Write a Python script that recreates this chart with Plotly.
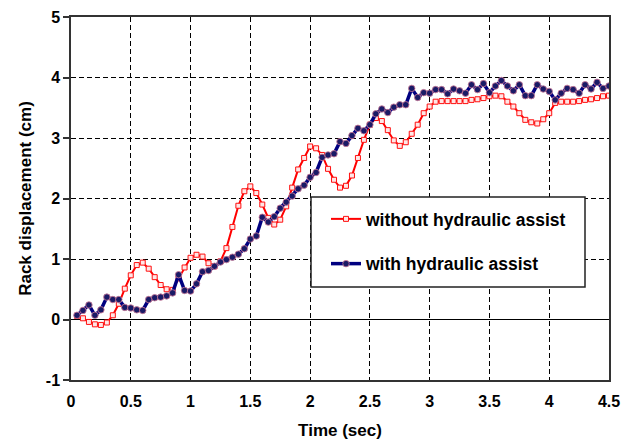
import plotly.graph_objects as go

# Sample times (s)
time_s = [0.05, 0.10, 0.15, 0.20, 0.25, 0.30, 0.35, 0.40, 0.45, 0.50,
          0.55, 0.60, 0.65, 0.70, 0.75, 0.80, 0.85, 0.90, 0.95, 1.00,
          1.05, 1.10, 1.15, 1.20, 1.25, 1.30, 1.35, 1.40, 1.45, 1.50,
          1.55, 1.60, 1.65, 1.70, 1.75, 1.80, 1.85, 1.90, 1.95, 2.00,
          2.05, 2.10, 2.15, 2.20, 2.25, 2.30, 2.35, 2.40, 2.45, 2.50,
          2.55, 2.60, 2.65, 2.70, 2.75, 2.80, 2.85, 2.90, 2.95, 3.00,
          3.05, 3.10, 3.15, 3.20, 3.25, 3.30, 3.35, 3.40, 3.45, 3.50,
          3.55, 3.60, 3.65, 3.70, 3.75, 3.80, 3.85, 3.90, 3.95, 4.00,
          4.05, 4.10, 4.15, 4.20, 4.25, 4.30, 4.35, 4.40, 4.45, 4.50]

# Rack displacement (cm) without hydraulic assist
without_assist = [0.06, 0.02, -0.04, -0.08, -0.09, -0.05, 0.07, 0.26, 0.51, 0.73,
                  0.90, 0.94, 0.84, 0.70, 0.57, 0.50, 0.49, 0.68, 0.86, 1.02,
                  1.07, 1.04, 0.93, 0.88, 0.96, 1.18, 1.53, 1.88, 2.12, 2.20,
                  2.09, 1.90, 1.68, 1.57, 1.65, 1.87, 2.18, 2.48, 2.67, 2.86,
                  2.83, 2.72, 2.49, 2.31, 2.18, 2.21, 2.38, 2.67, 2.97, 3.22,
                  3.33, 3.28, 3.13, 2.96, 2.87, 2.93, 3.07, 3.22, 3.41, 3.52,
                  3.60, 3.61, 3.61, 3.61, 3.61, 3.61, 3.63, 3.64, 3.66, 3.69,
                  3.70, 3.69, 3.60, 3.52, 3.41, 3.30, 3.26, 3.24, 3.31, 3.41,
                  3.58, 3.60, 3.60, 3.60, 3.61, 3.63, 3.64, 3.66, 3.69, 3.70]

# Rack displacement (cm) with hydraulic assist
with_assist = [0.07, 0.15, 0.24, 0.07, 0.16, 0.37, 0.33, 0.33, 0.20, 0.19,
               0.16, 0.15, 0.33, 0.36, 0.37, 0.39, 0.44, 0.74, 0.48, 0.47,
               0.59, 0.79, 0.81, 0.88, 0.95, 0.99, 1.03, 1.08, 1.17, 1.33,
               1.38, 1.69, 1.61, 1.70, 1.84, 1.94, 2.04, 2.16, 2.22, 2.35,
               2.43, 2.68, 2.72, 2.74, 2.94, 2.91, 3.04, 3.16, 3.12, 3.22,
               3.40, 3.48, 3.42, 3.51, 3.55, 3.55, 3.82, 3.67, 3.75, 3.74,
               3.80, 3.80, 3.73, 3.81, 3.78, 3.74, 3.88, 3.80, 3.90, 3.75,
               3.86, 3.95, 3.86, 3.78, 3.88, 3.70, 3.70, 3.88, 3.81, 3.77,
               3.63, 3.74, 3.82, 3.80, 3.74, 3.88, 3.81, 3.92, 3.82, 3.86]

x_ticks = [0, 0.5, 1, 1.5, 2, 2.5, 3, 3.5, 4, 4.5]
x_tick_text = ["0", "0.5", "1", "1.5", "2", "2.5", "3", "3.5", "4", "4.5"]
y_ticks = [-1, 0, 1, 2, 3, 4, 5]
y_tick_text = ["-1", "0", "1", "2", "3", "4", "5"]

FONT = "Liberation Sans, Arial, sans-serif"

# Plot-area geometry in pixels (used to place the legend frame)
W, H = 632, 444
ML, MR, MT, MB = 71, 23, 17, 64
PW, PH = W - ML - MR, H - MT - MB


def px_to_paper(px, py):
    return (px - ML) / PW, (H - MB - py) / PH


fig = go.Figure()

fig.add_trace(go.Scatter(
    x=time_s, y=without_assist,
    mode="lines+markers",
    name="without hydraulic assist",
    legendgroup="a",
    line=dict(color="#ff0000", width=2),
    marker=dict(symbol="square", size=5, color="#ffe6e6",
                line=dict(color="#ff1010", width=1)),
))

fig.add_trace(go.Scatter(
    x=time_s, y=with_assist,
    mode="lines+markers",
    name="with hydraulic assist",
    legendgroup="b",
    line=dict(color="#000080", width=3.5),
    marker=dict(symbol="circle", size=6.5, color="#1a1a66",
                line=dict(color="rgba(200,120,150,0.85)", width=1)),
))

# Legend frame: white box with a dark border, covering the curves behind it
bx0, by0 = px_to_paper(311, 287)
bx1, by1 = px_to_paper(585, 197)
fig.add_shape(type="rect", xref="paper", yref="paper",
              x0=bx0, y0=by0, x1=bx1, y1=by1,
              fillcolor="white", line=dict(color="#222222", width=1.5),
              layer="above")

lx, ly = px_to_paper(326, 201)

fig.update_layout(
    width=W, height=H,
    margin=dict(l=ML, r=MR, t=MT, b=MB),
    paper_bgcolor="white",
    plot_bgcolor="white",
    font=dict(family=FONT, size=16, color="black", weight="bold"),
    showlegend=True,
    legend=dict(
        x=lx, y=ly, xanchor="left", yanchor="top",
        bgcolor="rgba(0,0,0,0)", borderwidth=0,
        font=dict(family=FONT, size=17.5, color="black", weight="bold"),
        tracegroupgap=19,
        itemwidth=30,
    ),
    xaxis=dict(
        range=[0, 4.5], automargin=False,
        tickmode="array", tickvals=x_ticks, ticktext=x_tick_text,
        ticks="outside", ticklen=6, tickcolor="rgba(0,0,0,0)",
        showgrid=True, gridcolor="black", gridwidth=1, griddash="5px,3px",
        showline=True, linecolor="#333333", linewidth=1.5, mirror=True,
        zeroline=False,
        tickfont=dict(family=FONT, size=16, weight="bold"),
        title=dict(text="Time (sec)", standoff=15,
                   font=dict(family=FONT, size=17, weight="bold")),
    ),
    yaxis=dict(
        range=[-1, 5], automargin=False,
        tickmode="array", tickvals=y_ticks, ticktext=y_tick_text,
        ticks="outside", ticklen=6, tickcolor="#333333", tickwidth=1.5,
        showgrid=True, gridcolor="black", gridwidth=1, griddash="5px,3px",
        showline=True, linecolor="#333333", linewidth=1.5, mirror=True,
        zeroline=True, zerolinecolor="black", zerolinewidth=1.2,
        tickfont=dict(family=FONT, size=16, weight="bold"),
        title=dict(text="Rack displacement (cm)", standoff=10,
                   font=dict(family=FONT, size=17, weight="bold")),
    ),
)

fig.write_html("out.html")
